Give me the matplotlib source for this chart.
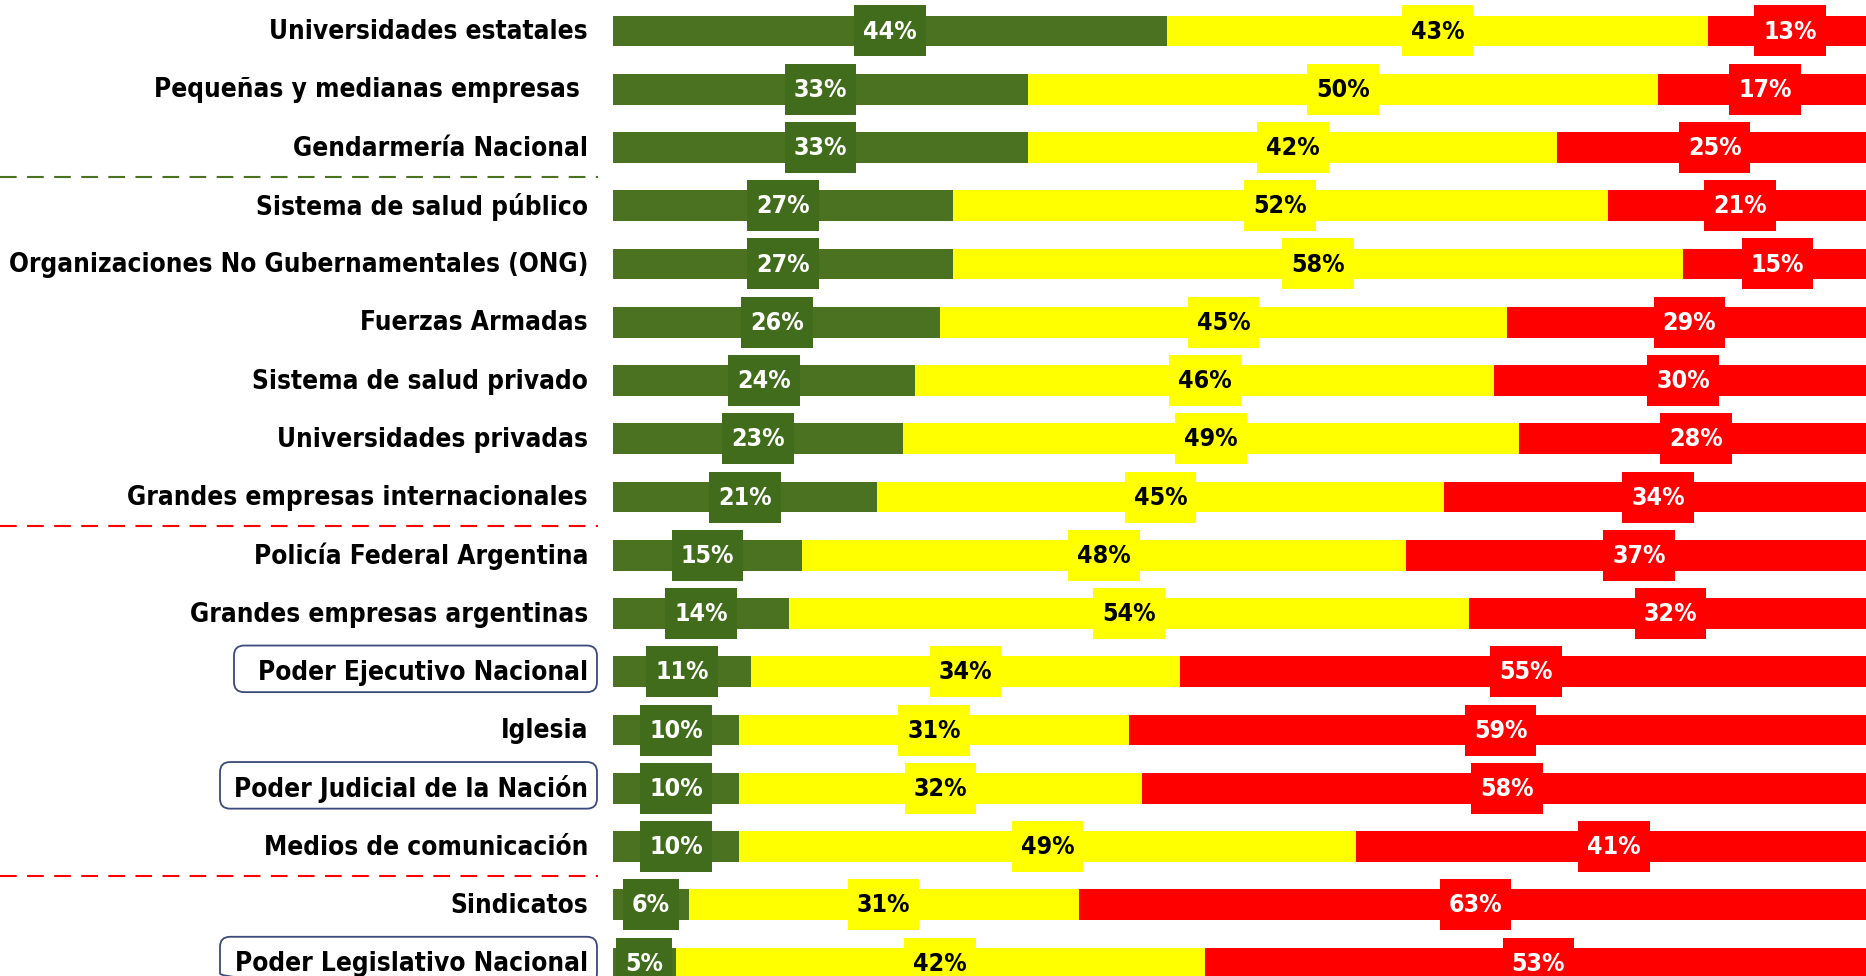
import matplotlib
matplotlib.use("Agg")
import matplotlib.pyplot as plt
from matplotlib.patches import FancyBboxPatch, Rectangle
from matplotlib.transforms import IdentityTransform
from matplotlib import font_manager as fm
import numpy as np

categories = [
    "Universidades estatales",
    "Pequeñas y medianas empresas ",
    "Gendarmería Nacional",
    "Sistema de salud público",
    "Organizaciones No Gubernamentales (ONG)",
    "Fuerzas Armadas",
    "Sistema de salud privado",
    "Universidades privadas",
    "Grandes empresas internacionales",
    "Policía Federal Argentina",
    "Grandes empresas argentinas",
    "Poder Ejecutivo Nacional",
    "Iglesia",
    "Poder Judicial de la Nación",
    "Medios de comunicación",
    "Sindicatos",
    "Poder Legislativo Nacional",
]
positiva = [44, 33, 33, 27, 27, 26, 24, 23, 21, 15, 14, 11, 10, 10, 10, 6, 5]
regular = [43, 50, 42, 52, 58, 45, 46, 49, 45, 48, 54, 34, 31, 32, 49, 31, 42]
negativa = [13, 17, 25, 21, 15, 29, 30, 28, 34, 37, 32, 55, 59, 58, 41, 63, 53]
boxed = ["Poder Ejecutivo Nacional", "Poder Judicial de la Nación", "Poder Legislativo Nacional"]
box_left_px = [234, 220, 220]
green_sep_after = [2]
red_sep_after = [8, 14]

# pick a narrow bold font if one is installed
def pick_font():
    files = [f.fname for f in fm.fontManager.ttflist]
    prefs = ["LiberationSansNarrow-Bold", "OpenSans_Condensed-Bold", "OpenSansCondensed-Bold",
             "DejaVuSansCondensed-Bold", "RobotoCondensed-Bold", "Roboto_Condensed-Bold"]
    for p in prefs:
        for f in files:
            base = f.split("/")[-1]
            if base.lower().startswith(p.lower()):
                return fm.FontProperties(fname=f)
    return fm.FontProperties(family="Lato", weight="bold")

FP = pick_font()

W, H = 1866, 976
fig = plt.figure(figsize=(W / 100, H / 100), dpi=100)
fig.patch.set_facecolor("white")
r = fig.canvas.get_renderer()

def fit_size(text, target_px, size0=20):
    t = fig.text(0, 0, text, fontproperties=FP, fontsize=size0)
    w = t.get_window_extent(r).width
    t.remove()
    return size0 * target_px / w

fs_cat = min(fit_size("Organizaciones No Gubernamentales (ONG)", 580), 24)
fs_val = fs_cat * 0.95

x0 = 613 / W
ax = fig.add_axes([x0, 0, 1 - x0, 1])
ax.set_xlim(0, (W - 613) / 12.59)
slot = 58.25
ax.set_ylim((H - 31) / slot, -31 / slot)
ax.axis("off")

GREEN = "#4B7220"
GREEN_LBL = "#416C1C"
YELLOW = "#FFFF00"
RED = "#FF0000"

y = np.arange(len(categories))
h = 0.53
ax.barh(y, positiva, height=h, color=GREEN, edgecolor="none", zorder=1)
ax.barh(y, regular, left=positiva, height=h, color=YELLOW, edgecolor="none", zorder=1)
left_red = np.array(positiva) + np.array(regular)
ax.barh(y, negativa, left=left_red, height=h, color=RED, edgecolor="none", zorder=1)

val_texts = []
for i in range(len(categories)):
    segs = [
        (positiva[i], 0, GREEN_LBL, "white"),
        (regular[i], positiva[i], YELLOW, "black"),
        (negativa[i], positiva[i] + regular[i], RED, "white"),
    ]
    for v, start, bg, fg in segs:
        t = ax.text(start + v / 2, i + 0.01, f"{v}%", ha="center", va="center",
                    fontproperties=FP, fontsize=fs_val, color=fg, zorder=3)
        val_texts.append((t, bg, i))

# category labels
lab_ax = fig.add_axes([0, 0, x0, 1])
lab_ax.set_xlim(0, 613)
lab_ax.set_ylim(ax.get_ylim())
lab_ax.axis("off")
texts = []
for i, c in enumerate(categories):
    t = lab_ax.text(588, i + 0.02, c, ha="right", va="center",
                    fontproperties=FP, fontsize=fs_cat, color="black")
    texts.append(t)

for s in green_sep_after:
    lab_ax.plot([0, 598], [s + 0.5, s + 0.5], ls=(0, (8, 5)), color="#4B7220", lw=1.5)
for s in red_sep_after:
    lab_ax.plot([0, 598], [s + 0.5, s + 0.5], ls=(0, (8, 5)), color="#FF0000", lw=1.5)

fig.canvas.draw()

# label background boxes (taller than the bars)
box_h = 51
for t, bg, i in val_texts:
    bb = t.get_window_extent(r)
    cy = ax.transData.transform([(0, i)])[0][1]
    rect = Rectangle((bb.x0 - 9, cy - box_h / 2), bb.width + 18, box_h,
                     transform=IdentityTransform(), facecolor=bg, edgecolor="none",
                     zorder=2, clip_on=False)
    ax.add_artist(rect)

inv = lab_ax.transData.inverted()
for name, bl in zip(boxed, box_left_px):
    i = categories.index(name)
    bb = texts[i].get_window_extent(r)
    (lx, _), = inv.transform([(bb.x0, 0)])
    left = min(bl, lx - 8)
    right = 597
    p = FancyBboxPatch((left, i - 0.45), right - left, 0.80,
                       boxstyle="round,pad=0,rounding_size=10",
                       fc="none", ec="#3B4A7A", lw=1.3,
                       mutation_aspect=1 / slot, clip_on=False)
    lab_ax.add_patch(p)

fig.savefig("out.png", dpi=100)
